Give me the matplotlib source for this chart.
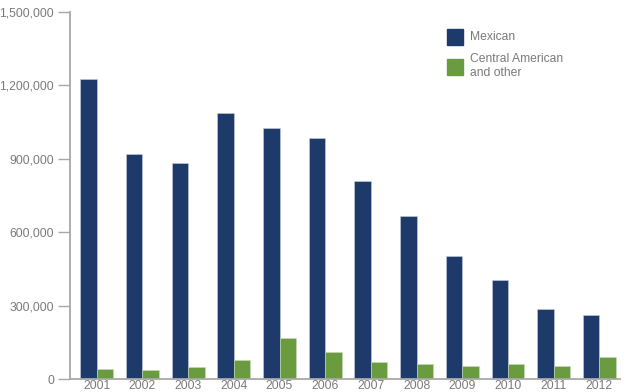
import numpy as np
import matplotlib.pyplot as plt
from matplotlib.patches import Rectangle
from matplotlib.ticker import FuncFormatter

years = ['2001', '2002', '2003', '2004', '2005', '2006',
         '2007', '2008', '2009', '2010', '2011', '2012']
mexican = [1225000, 919000, 883000, 1087000, 1026000, 985000,
           809000, 665000, 504000, 405000, 287000, 260000]
central = [42000, 37000, 49000, 76000, 166000, 109000,
           69000, 63000, 53000, 60000, 54000, 90000]
yticks = [0, 300000, 600000, 900000, 1200000, 1500000]

navy = '#1d3a6a'
green = '#6a9b3f'
grey = '#7a7a7a'
axis_grey = '#a8a8a8'

plt.rcParams['font.family'] = ['Liberation Sans', 'DejaVu Sans']

W, H = 630, 392
fig = plt.figure(figsize=(W / 100, H / 100), dpi=100)
ax = fig.add_axes([69.5 / W, 1 - 379 / H, (620 - 69.5) / W, (379 - 12) / H])

x = np.arange(len(years))
bw = 0.36
ax.bar(x - bw / 2, mexican, bw, color=navy, edgecolor='#c7cfdd', linewidth=0.4)
ax.bar(x + bw / 2, central, bw, color=green, edgecolor='#c9dcb8', linewidth=0.4)

ax.set_xlim(-0.595, 11.45)
ax.set_ylim(0, 1500000)
ax.set_xticks(x)
ax.set_xticklabels(years)
ax.set_yticks(yticks)
ax.yaxis.set_major_formatter(FuncFormatter(lambda v, p: f'{int(v):,}'))

for s in ['top', 'right']:
    ax.spines[s].set_visible(False)
for s in ['left', 'bottom']:
    ax.spines[s].set_color(axis_grey)
    ax.spines[s].set_linewidth(1.3)
ax.tick_params(axis='y', length=9, width=1.0, color=axis_grey,
               labelcolor=grey, labelsize=8.7, pad=2)
ax.tick_params(axis='x', length=0, labelcolor=grey, labelsize=8.7, pad=1)

# legend drawn by hand
def px(xp, yp):
    return xp / W, 1 - yp / H

for (y0, col, lab, ty) in [(29, navy, 'Mexican', 37),
                           (59, green, 'Central American\nand other', 66)]:
    fig.add_artist(Rectangle(px(447, y0 + 16), 16 / W, 16 / H,
                             transform=fig.transFigure, color=col))
    fig.text(*px(470, ty), lab, color=grey, fontsize=8.7, va='center',
             ha='left', linespacing=1.25)

fig.savefig('out.png', dpi=100)
